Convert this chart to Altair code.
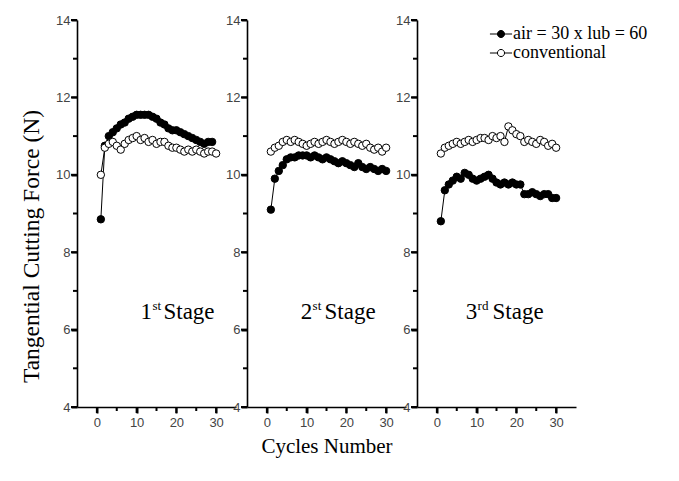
import altair as alt
import pandas as pd

AIR = "air = 30 x lub = 60"
CONV = "conventional"

cycles = list(range(1, 31))

s1_air = [8.85, 10.75, 11.0, 11.1, 11.2, 11.3, 11.35, 11.45, 11.5, 11.55,
          11.55, 11.55, 11.55, 11.5, 11.45, 11.35, 11.3, 11.2, 11.15, 11.15,
          11.1, 11.05, 11.0, 10.95, 10.9, 10.85, 10.8, 10.85, 10.85]
s1_conv = [10.0, 10.7, 10.8, 10.85, 10.75, 10.65, 10.8, 10.9, 10.95, 11.0,
           10.9, 10.95, 10.85, 10.9, 10.8, 10.85, 10.85, 10.75, 10.7, 10.7,
           10.65, 10.6, 10.65, 10.6, 10.65, 10.6, 10.55, 10.6, 10.6, 10.55]

s2_air = [9.1, 9.9, 10.1, 10.25, 10.4, 10.45, 10.45, 10.5, 10.5, 10.5,
          10.45, 10.5, 10.45, 10.4, 10.45, 10.4, 10.35, 10.3, 10.35, 10.3,
          10.25, 10.2, 10.3, 10.2, 10.15, 10.2, 10.15, 10.1, 10.15, 10.1]
s2_conv = [10.6, 10.7, 10.75, 10.85, 10.9, 10.85, 10.9, 10.85, 10.8, 10.75,
           10.8, 10.85, 10.8, 10.85, 10.9, 10.85, 10.8, 10.85, 10.9, 10.85,
           10.8, 10.85, 10.8, 10.75, 10.8, 10.7, 10.65, 10.7, 10.6, 10.7]

s3_air = [8.8, 9.6, 9.75, 9.85, 9.95, 9.9, 10.05, 10.0, 9.9, 9.85,
          9.9, 9.95, 10.0, 9.9, 9.8, 9.75, 9.8, 9.75, 9.8, 9.75,
          9.75, 9.5, 9.5, 9.55, 9.5, 9.45, 9.5, 9.5, 9.4, 9.4]
s3_conv = [10.55, 10.7, 10.75, 10.8, 10.85, 10.8, 10.85, 10.9, 10.85, 10.9,
           10.95, 10.95, 10.9, 11.0, 10.95, 11.0, 10.85, 11.25, 11.15, 11.05,
           11.0, 10.85, 10.9, 10.85, 10.8, 10.9, 10.85, 10.75, 10.8, 10.7]

stages = [
    (s1_air, s1_conv),
    (s2_air, s2_conv),
    (s3_air, s3_conv),
]

x_major = [0, 10, 20, 30]
x_minor = [5, 15, 25]
y_major = [4, 6, 8, 10, 12, 14]
y_minor = [5, 7, 9, 11, 13]

# stage annotation words: (text, x, y, kind)
stage_labels = [
    [("1", 11.0, 6.45, "num"), ("st", 14.0, 6.62, "sup"), ("Stage", 16.75, 6.45, "word")],
    [("2", 8.5, 6.45, "num"), ("st", 11.5, 6.62, "sup"), ("Stage", 14.5, 6.45, "word")],
    [("3", 7.25, 6.45, "num"), ("rd", 10.25, 6.62, "sup"), ("Stage", 14.0, 6.45, "word")],
]

SERIF = "Liberation Serif"
SANS = "Liberation Sans"

legend = alt.Legend(
    orient="none", legendX=415, legendY=5, title=None,
    symbolType="M-1.4,0H-0.45 M0.45,0H1.4 M-0.45,0A0.45,0.45 0 1,0 0.45,0A0.45,0.45 0 1,0 -0.45,0Z",
    symbolSize=250, symbolStrokeColor="black", symbolStrokeWidth=1,
    labelFont=SERIF, labelFontSize=18, labelColor="black", labelOffset=3,
    rowPadding=1,
)

x_scale = alt.Scale(domain=[-5, 35], nice=False, zero=False)
y_scale = alt.Scale(domain=[4, 14], nice=False, zero=False)


def tick_layer(values, axis, length):
    d = pd.DataFrame({"v": values})
    m = alt.Chart(d).mark_rule(color="black", strokeWidth=2)
    if axis == "x":
        return m.encode(x=alt.X("v:Q", scale=x_scale, axis=None),
                        y=alt.value(387), y2=alt.value(387 + length))
    return m.encode(y=alt.Y("v:Q", scale=y_scale, axis=None),
                    x=alt.value(0), x2=alt.value(-length))


def panel(i):
    air, conv = stages[i]
    rows = []
    for c, v in zip(cycles, air):
        rows.append({"cycle": c, "force": v, "series": AIR})
    for c, v in zip(cycles, conv):
        rows.append({"cycle": c, "force": v, "series": CONV})
    df = pd.DataFrame(rows)
    lab = pd.DataFrame(stage_labels[i], columns=["text", "x", "y", "kind"])

    x_axis = alt.Axis(
        orient="bottom", values=x_major, ticks=True, tickSize=6, tickColor="black",
        tickWidth=2, domainColor="black", domainWidth=1.6, grid=False,
        title="Cycles Number" if i == 1 else "",
        titleFont=SERIF, titleFontSize=21, titleFontWeight="normal", titleColor="black",
        titlePadding=6,
        labelFont=SANS, labelFontSize=13, labelColor="#444", labelPadding=3,
    )
    y_axis_kw = dict(
        orient="left", values=y_major, ticks=True, tickSize=6, tickColor="black",
        tickWidth=2, domainColor="black", domainWidth=1.6, grid=False,
        title="Tangential Cutting Force (N)" if i == 0 else "",
        titleFont=SERIF, titleFontSize=23.5, titleFontWeight="normal", titleColor="black",
        titlePadding=12,
        labelFont=SANS, labelFontSize=13, labelColor="#444", labelPadding=1,
    )
    if i == 0:
        y_axis_kw["titleY"] = 226
    y_axis = alt.Axis(**y_axis_kw)

    base = alt.Chart(df)
    line = base.mark_line(color="black", strokeWidth=1).encode(
        x=alt.X("cycle:Q", scale=x_scale, axis=x_axis),
        y=alt.Y("force:Q", scale=y_scale, axis=y_axis),
        detail="series:N",
        order="cycle:Q",
    )
    pts = base.mark_point(shape="circle", size=55, filled=True, stroke="black",
                          strokeWidth=1, opacity=1).encode(
        x=alt.X("cycle:Q", scale=x_scale, axis=None),
        y=alt.Y("force:Q", scale=y_scale, axis=None),
        fill=alt.Fill("series:N", scale=alt.Scale(domain=[AIR, CONV], range=["black", "white"]),
                      legend=legend),
    )
    labc = alt.Chart(lab)
    big = labc.transform_filter("datum.kind !== 'sup'").mark_text(
        font=SERIF, fontSize=23, align="left", baseline="middle", color="black"
    ).encode(x=alt.X("x:Q", scale=x_scale, axis=None),
             y=alt.Y("y:Q", scale=y_scale, axis=None), text="text:N")
    sup = labc.transform_filter("datum.kind === 'sup'").mark_text(
        font=SERIF, fontSize=13, align="left", baseline="middle", color="black"
    ).encode(x=alt.X("x:Q", scale=x_scale, axis=None),
             y=alt.Y("y:Q", scale=y_scale, axis=None), text="text:N")
    ticks = [
        tick_layer(x_major, "x", 6), tick_layer(x_minor, "x", 4),
        tick_layer(y_major, "y", 6), tick_layer(y_minor, "y", 4),
    ]
    return alt.layer(line, pts, big, sup, *ticks).resolve_axis(
        x="independent", y="independent"
    ).properties(width=159, height=387)


chart = alt.hconcat(panel(0), panel(1), panel(2), spacing=11, bounds="flush").properties(
    padding={"left": 19, "top": 14, "right": 5, "bottom": 5},
    background="white",
).configure_view(stroke=None)

chart.save("out.html", embed_options={"renderer": "svg", "actions": False})
